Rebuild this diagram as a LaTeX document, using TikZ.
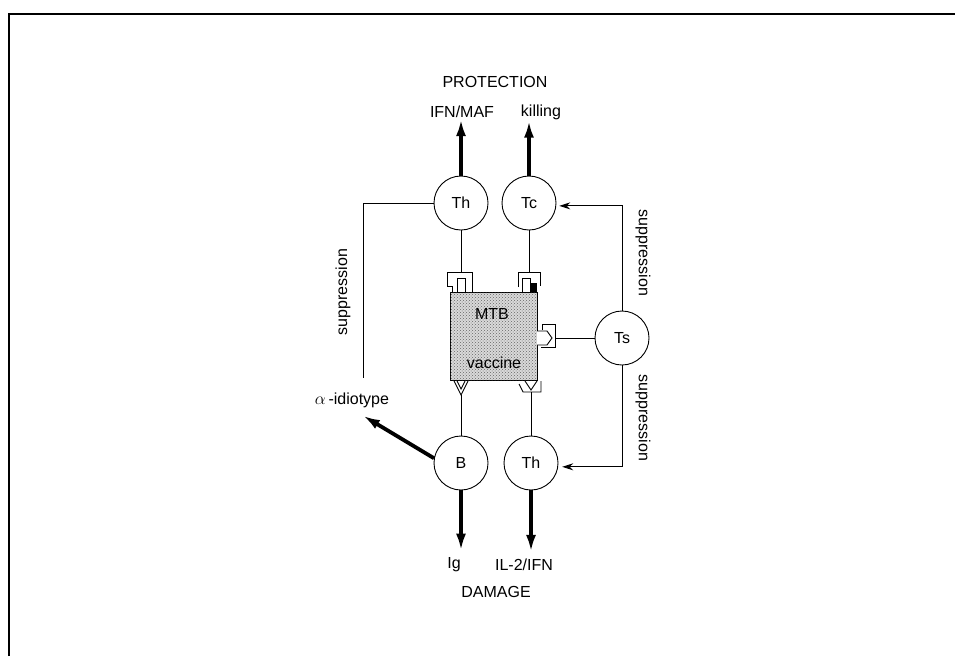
\documentclass[tikz,border=0pt]{standalone}
\usepackage{fontspec}
\setmainfont{Liberation Sans}
\usetikzlibrary{arrows.meta,patterns,calc}
\begin{document}
\begin{tikzpicture}[x=1pt,y=-1pt,
 every node/.style={font=\fontsize{16}{19}\selectfont},
 cell/.style={draw,circle,minimum size=54pt,inner sep=0pt,line width=0.9pt},
 lbl/.style={inner sep=1pt},
 thinline/.style={line width=0.9pt},
 bigarrow/.style={line width=3.8pt,-{Latex[length=17pt,width=10pt]}},
 suparrow/.style={line width=0.9pt,-{Stealth[length=11pt,width=7pt]}}
]
\useasboundingbox (0,0) rectangle (955,656);
% frame
\draw[line width=1.5pt] (9,656) -- (9,14) -- (955,14);

% labels
\node[lbl] (prot) at (495,82) {PROTECTION};
\node[lbl] (ifn) at (462,112) {IFN/MAF};
\node[lbl] (kill) at (541,112) {killing};
\node[lbl] (ig) at (454,565) {Ig};
\node[lbl] (il) at (524,565) {IL-2/IFN};
\node[lbl] (dam) at (496,592) {DAMAGE};
\node[lbl] (alpha) at (352,400) {$\alpha$\,-idiotype};

% cells
\node[cell] (th1) at (461,203) {Th};
\node[cell] (tc) at (529,203) {Tc};
\node[cell] (ts) at (622,338) {Ts};
\node[cell] (b) at (461,463) {B};
\node[cell] (th2) at (531,463) {Th};

% box
\node[draw,thinline,minimum width=87pt,minimum height=88pt,inner sep=0pt,
      fill=black!15,postaction={pattern=crosshatch dots,pattern color=black!60}] (box) at (493.5,336) {};
\node[lbl] (mtb) at (492,314) {MTB};
\node[lbl] (vac) at (494,363) {vaccine};

% receptors
\coordinate (rth1) at (461,272);
\coordinate (rtc) at (529,272);
\coordinate (rts) at (555,338);
\coordinate (rb) at (461,395);
\coordinate (rth2) at (531,392);

\draw[thinline] (452,292)--(452,286)--(447,286)--(447,272)--(472,272)--(472,292);
\draw[thinline,fill=white] (457,278) rectangle (465,292);

\draw[thinline] (518,287)--(518,272)--(540,272)--(540,286);
\draw[thinline,fill=white] (522,278) rectangle (530,292);
\fill (530,283) rectangle (537,292);

\draw[thinline] (542,330)--(542,324)--(555,324)--(555,347)--(541,347);
\draw[thinline,fill=white] (537,331)--(547,331)--(552,338)--(547,345)--(537,345);

\draw[thinline] (454,381)--(461,395)--(468,381);
\draw[thinline] (457,381)--(461,389)--(465,381);

\draw[thinline] (519,384)--(523,392)--(541,392)--(541,381);
\draw[thinline] (525,381)--(531,390)--(537,381);

% thin connectors
\draw[thinline] (th1.south) -- (rth1);
\draw[thinline] (tc.south) -- (rtc);
\draw[thinline] (ts.west) -- (rts);
\draw[thinline] (b.north) -- (rb);
\draw[thinline] (th2.north) -- (rth2);

% thick arrows
\draw[bigarrow] (th1.north) -- (th1.north |- ifn.south);
\draw[bigarrow] (tc.north) -- (tc.north |- kill.south);
\draw[bigarrow] (b.south) -- ([yshift=6pt]b.south |- ig.north);
\draw[bigarrow] (th2.south) -- ([yshift=6pt]th2.south |- il.north);
\draw[bigarrow] (b.170) -- ($(alpha.south)+(11,7)$);

% suppression
\coordinate (supl) at (363,378);
\draw[thinline] (th1.west) -| (supl);
\node[lbl,rotate=90] (s1) at (343,292) {suppression};
\draw[suparrow,shorten >=3pt] (ts.north) |- (tc.-6);
\node[lbl,rotate=-90] (s2) at (643,253) {suppression};
\draw[suparrow,shorten >=4pt] (ts.south) |- (th2.-8);
\node[lbl,rotate=-90] (s3) at (643,418) {suppression};
\end{tikzpicture}
\end{document}
